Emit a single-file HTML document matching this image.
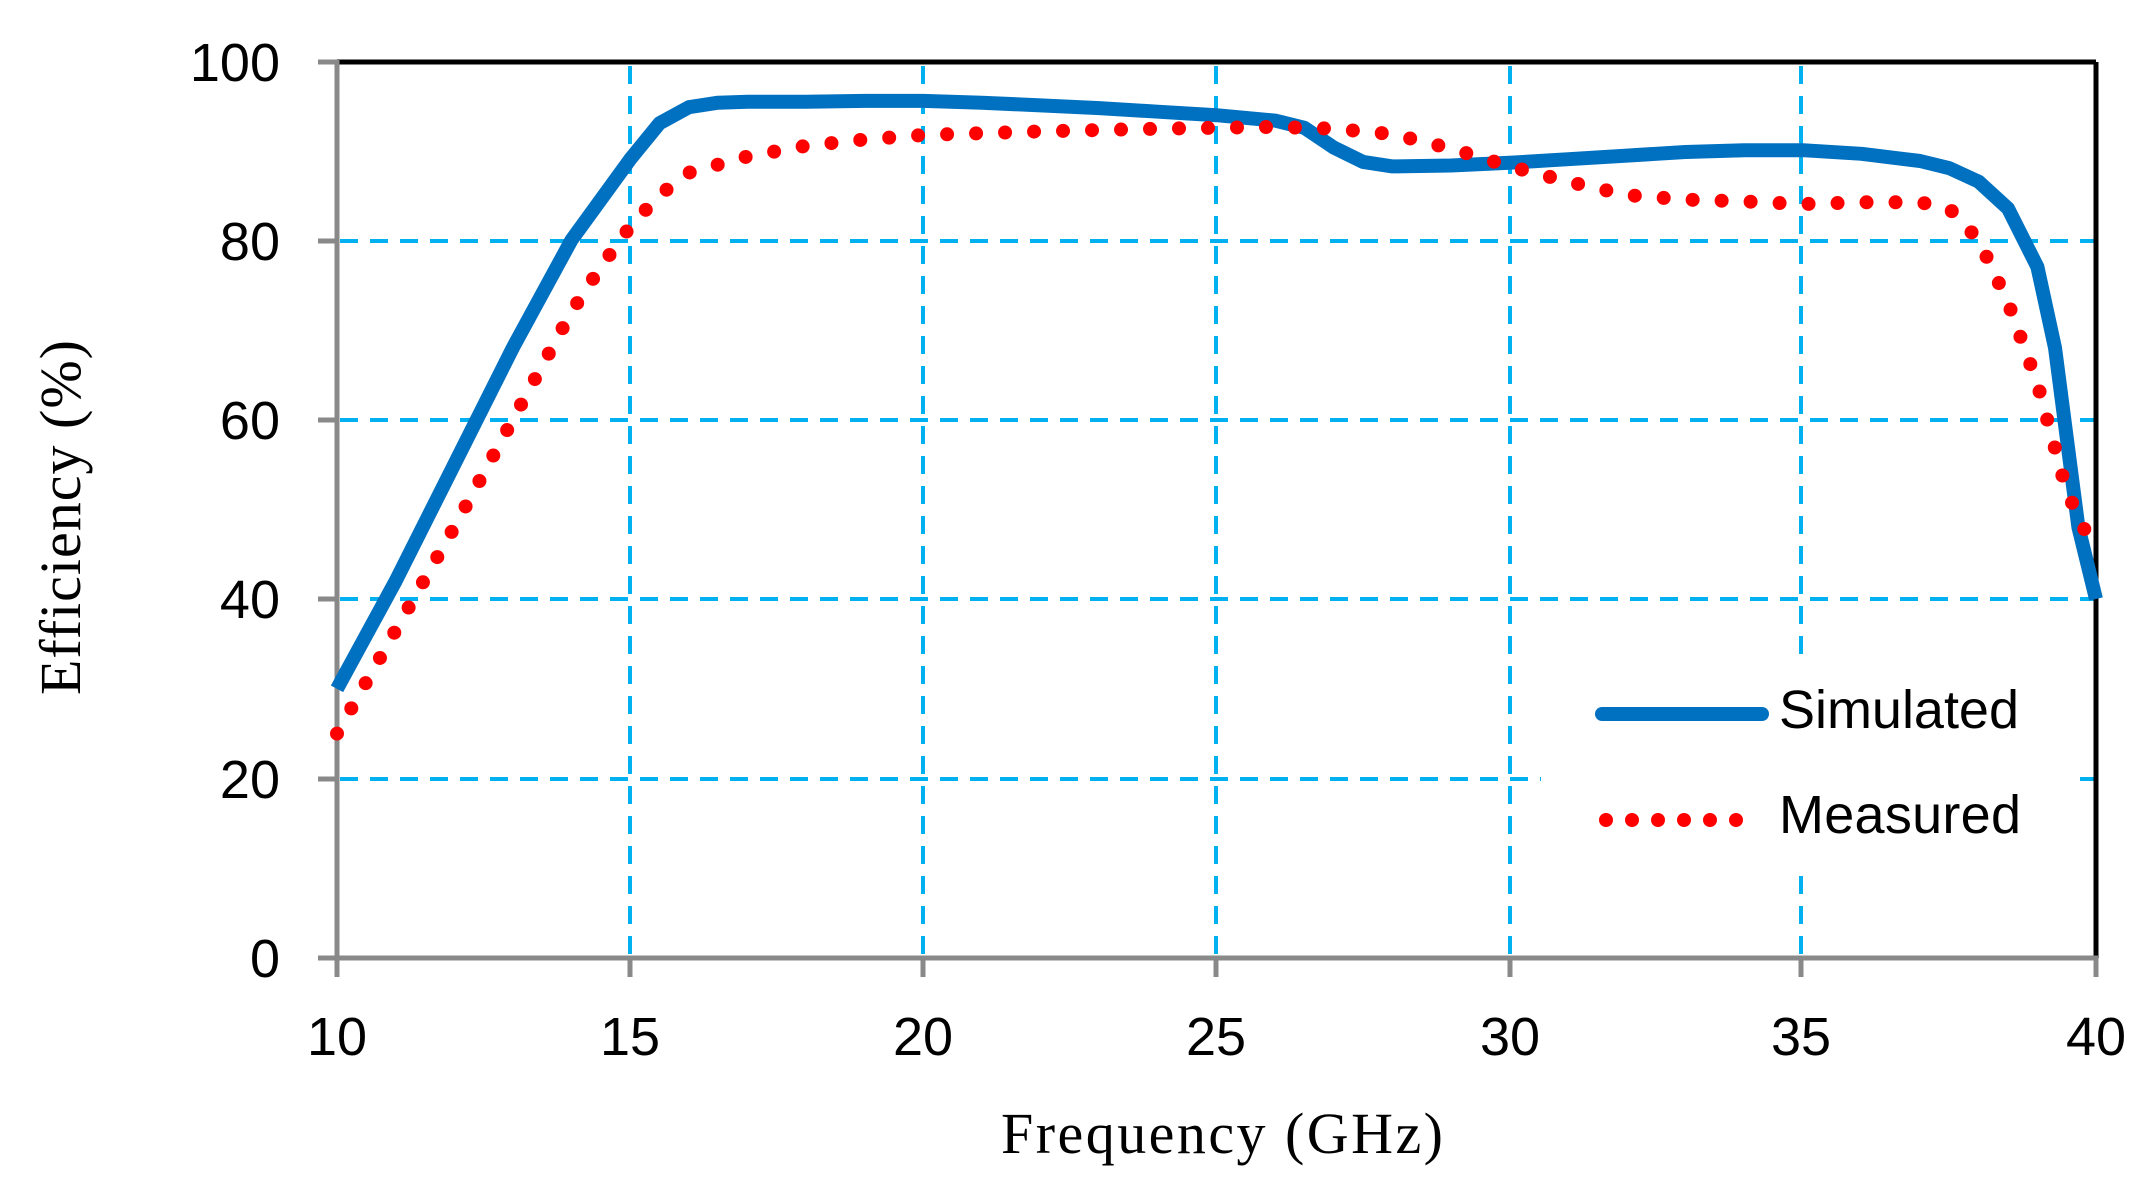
<!DOCTYPE html>
<html><head><meta charset="utf-8"><style>
html,body{margin:0;padding:0;background:#fff;}
svg{display:block;}
</style></head><body>
<svg width="2153" height="1179" xmlns="http://www.w3.org/2000/svg">
<rect width="2153" height="1179" fill="#fff"/>
<g stroke="#00B0F0" stroke-width="4" stroke-dasharray="18 12" fill="none">
<line x1="340" y1="779" x2="2094" y2="779"/>
<line x1="340" y1="599" x2="2094" y2="599"/>
<line x1="340" y1="420" x2="2094" y2="420"/>
<line x1="340" y1="241" x2="2094" y2="241"/>
<line x1="630" y1="66" x2="630" y2="956"/>
<line x1="923" y1="66" x2="923" y2="956"/>
<line x1="1216" y1="66" x2="1216" y2="956"/>
<line x1="1510" y1="66" x2="1510" y2="956"/>
<line x1="1801" y1="66" x2="1801" y2="956"/>
</g>
<rect x="1541" y="655" width="533" height="215" fill="#fff"/>
<line x1="337" y1="62" x2="2096" y2="62" stroke="#000" stroke-width="5"/>
<line x1="2096" y1="62" x2="2096" y2="958" stroke="#000" stroke-width="5"/>
<g stroke="#898989" stroke-width="5">
<line x1="337" y1="60" x2="337" y2="977"/>
<line x1="318" y1="958" x2="2098" y2="958"/>
<line x1="318" y1="62" x2="337" y2="62"/>
<line x1="318" y1="241" x2="337" y2="241"/>
<line x1="318" y1="420" x2="337" y2="420"/>
<line x1="318" y1="599" x2="337" y2="599"/>
<line x1="318" y1="779" x2="337" y2="779"/>
<line x1="630" y1="958" x2="630" y2="977"/>
<line x1="923" y1="958" x2="923" y2="977"/>
<line x1="1216" y1="958" x2="1216" y2="977"/>
<line x1="1510" y1="958" x2="1510" y2="977"/>
<line x1="1801" y1="958" x2="1801" y2="977"/>
<line x1="2096" y1="958" x2="2096" y2="977"/>
</g>
<polyline fill="none" stroke="#0070C0" stroke-width="14" stroke-linejoin="round" points="337,688.8 395.6,581.1 454.3,464.4 512.9,347.7 571.5,240 630.2,159.2 659.5,123.3 688.8,107.2 718.1,102.7 747.4,101.8 806,101.8 864.7,100.9 923.3,100.9 981.9,102.7 1040.6,105.4 1099.2,108.1 1157.8,111.7 1216.5,115.2 1275.1,120.6 1304.4,127.8 1333.8,147.6 1363.1,161.9 1392.4,166.4 1451,165.5 1509.6,162.8 1568.3,159.2 1626.9,155.6 1685.5,152 1744.2,150.2 1802.8,150.2 1861.5,153.8 1920.1,161 1949.4,168.2 1978.7,181.7 2008.1,208.6 2037.4,266.9 2055,347.7 2066.7,437.5 2078.4,527.2 2096,599"/>
<polyline fill="none" stroke="#FF0000" stroke-width="14" stroke-linecap="round" stroke-linejoin="round" stroke-dasharray="0 29" points="337,733.6 395.6,630.4 454.3,527.2 512.9,419.5 571.5,311.8 600.8,266.9 630.2,226.5 659.5,195.1 688.8,172.7 747.4,156.5 806,145.8 864.7,139.5 923.3,135 1040.6,131.4 1157.8,128.7 1275.1,126.9 1333.8,128.7 1392.4,134.1 1451,148.5 1509.6,166.4 1568.3,181.7 1626.9,195.1 1685.5,199.6 1744.2,201.4 1802.8,204.1 1861.5,202.3 1920.1,202.3 1949.4,208.6 1978.7,240 2008.1,302.8 2037.4,383.6 2066.7,491.3 2096,554.1"/>
<g font-family="Liberation Sans, sans-serif" font-size="54" fill="#000">
<text x="280" y="81" text-anchor="end">100</text>
<text x="280" y="260" text-anchor="end">80</text>
<text x="280" y="439" text-anchor="end">60</text>
<text x="280" y="618" text-anchor="end">40</text>
<text x="280" y="798" text-anchor="end">20</text>
<text x="280" y="977" text-anchor="end">0</text>
<text x="337" y="1055" text-anchor="middle">10</text>
<text x="630" y="1055" text-anchor="middle">15</text>
<text x="923" y="1055" text-anchor="middle">20</text>
<text x="1216" y="1055" text-anchor="middle">25</text>
<text x="1510" y="1055" text-anchor="middle">30</text>
<text x="1801" y="1055" text-anchor="middle">35</text>
<text x="2096" y="1055" text-anchor="middle">40</text>
<text x="1779" y="728" font-size="54" textLength="240">Simulated</text>
<text x="1779" y="833" font-size="54" textLength="242">Measured</text>
</g>
<line x1="1602" y1="714" x2="1762" y2="714" stroke="#0070C0" stroke-width="14" stroke-linecap="round"/>
<g fill="#FF0000">
<circle cx="1606" cy="820" r="7"/><circle cx="1632" cy="820" r="7"/><circle cx="1658" cy="820" r="7"/>
<circle cx="1684" cy="820" r="7"/><circle cx="1710" cy="820" r="7"/><circle cx="1736" cy="820" r="7"/>
</g>
<g font-family="Liberation Serif, serif" font-size="58" fill="#000">
<text x="1001" y="1153" textLength="442">Frequency  (GHz)</text>
<text transform="translate(80,695) rotate(-90)" x="0" y="0" textLength="355">Efficiency (%)</text>
</g>
</svg>
</body></html>
